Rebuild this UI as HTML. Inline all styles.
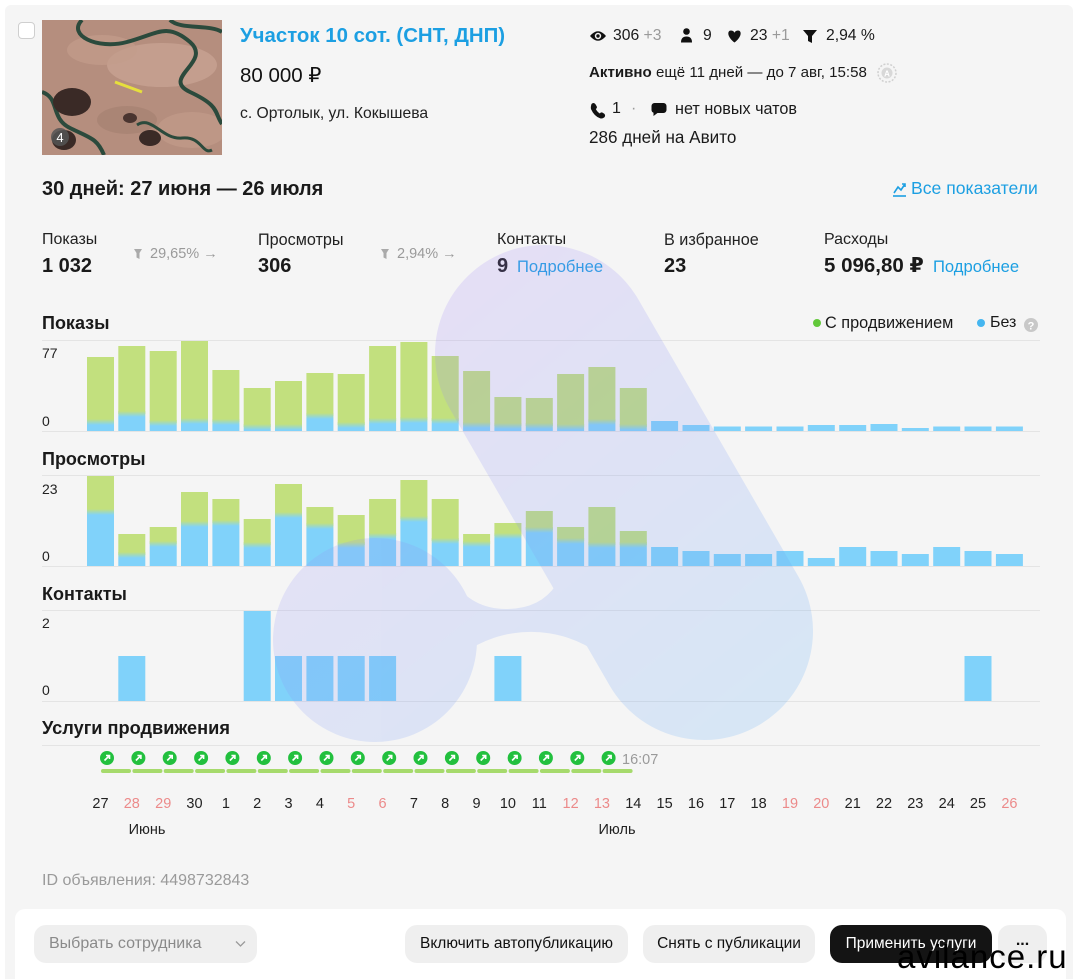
<!DOCTYPE html>
<html><head><meta charset="utf-8">
<style>
*{margin:0;padding:0;box-sizing:border-box}
html,body{width:1083px;height:979px;overflow:hidden;background:#fff}
body{position:relative;font-family:"Liberation Sans","DejaVu Sans",sans-serif;color:#1a1a1a}
.card{position:absolute;left:5px;top:5px;width:1068px;height:990px;background:#f5f5f5;border-radius:6px}
.t{position:absolute;white-space:nowrap;line-height:1}
.b{font-weight:bold}
.g{color:#9a9a9a}
.lnk{color:#1c9fe2}
.foot{position:absolute;left:15px;top:909px;width:1051px;height:90px;background:#fff;border-radius:10px}
.btn{position:absolute;top:925px;height:38px;border-radius:12px;background:#efefef;display:flex;align-items:center;justify-content:center;font-size:15px;color:#111;white-space:nowrap}
svg{position:absolute;left:0;top:0}
</style></head><body>
<div class="card"></div>

<!-- checkbox -->
<div style="position:absolute;left:18px;top:22px;width:17px;height:17px;background:#fff;border:1px solid #cfcfcf;border-radius:4px"></div>

<!-- thumbnail -->
<svg style="left:42px;top:20px" width="180" height="135" viewBox="0 0 180 135">
<rect width="180" height="135" fill="#b58e7e"/>
<ellipse cx="120" cy="45" rx="55" ry="22" fill="#caa595" opacity=".7"/>
<ellipse cx="60" cy="30" rx="35" ry="15" fill="#c39c8b" opacity=".7"/>
<ellipse cx="150" cy="110" rx="35" ry="18" fill="#c29b8a" opacity=".7"/>
<ellipse cx="85" cy="100" rx="30" ry="14" fill="#a47e70" opacity=".6"/>
<path d="M40 0 C25 15 55 30 85 22 S125 2 148 22 S118 58 148 72 S172 92 180 104" stroke="#2b4a3c" stroke-width="4" fill="none"/>
<path d="M0 72 C18 78 8 98 28 108 S55 118 62 135" stroke="#2b4a3c" stroke-width="4" fill="none"/>
<path d="M128 0 C138 10 168 4 180 12" stroke="#2b4a3c" stroke-width="4" fill="none"/>
<path d="M95 105 C110 95 120 120 140 118 S160 135 170 130" stroke="#2b4a3c" stroke-width="3" fill="none"/>
<ellipse cx="30" cy="82" rx="19" ry="14" fill="#3a2a26"/>
<ellipse cx="108" cy="118" rx="11" ry="8" fill="#3a2a26"/>
<ellipse cx="22" cy="120" rx="12" ry="10" fill="#3a2a26"/>
<ellipse cx="88" cy="98" rx="7" ry="5" fill="#4a3530"/>
<line x1="73" y1="62" x2="100" y2="72" stroke="#e6df3c" stroke-width="3"/>
<circle cx="18" cy="117" r="9" fill="#555" opacity=".85"/>
<text x="18" y="122" font-size="13" fill="#fff" text-anchor="middle" font-family="Liberation Sans">4</text>
</svg>

<!-- header texts -->
<div class="t b lnk" style="left:240px;top:26px;font-size:20.4px">Участок 10 сот. (СНТ, ДНП)</div>
<div class="t" style="left:240px;top:66px;font-size:20.5px;color:#111">80 000 ₽</div>
<div class="t" style="left:240px;top:106px;font-size:15.7px;color:#222">с. Ортолык, ул. Кокышева</div>

<div class="t" style="left:613px;top:28px;font-size:15.7px">306 <span class="g">+3</span></div>
<div class="t" style="left:703px;top:28px;font-size:15.7px">9</div>
<div class="t" style="left:750px;top:28px;font-size:15.7px">23 <span class="g">+1</span></div>
<div class="t" style="left:826px;top:28px;font-size:15.7px">2,94 %</div>

<div class="t" style="left:589px;top:65px;font-size:15.1px"><span class="b">Активно</span> ещё 11 дней — до 7 авг, 15:58</div>
<div class="t" style="left:612px;top:101px;font-size:16px">1</div>
<div class="t g" style="left:631px;top:101px;font-size:16px">·</div>
<div class="t" style="left:675px;top:101px;font-size:16.2px">нет новых чатов</div>
<div class="t" style="left:589px;top:129px;font-size:17.1px">286 дней на Авито</div>

<div class="t b" style="left:42px;top:179px;font-size:20px">30 дней: 27 июня — 26 июля</div>
<div class="t lnk" style="left:911px;top:180px;font-size:17.6px">Все показатели</div>

<!-- stats -->
<div class="t" style="left:42px;top:232px;font-size:16px;color:#222">Показы</div>
<div class="t b" style="left:42px;top:256px;font-size:20px">1 032</div>
<div class="t g" style="left:150px;top:247px;font-size:14.5px">29,65% →</div>
<div class="t" style="left:258px;top:232px;font-size:16.2px;color:#222">Просмотры</div>
<div class="t b" style="left:258px;top:256px;font-size:20px">306</div>
<div class="t g" style="left:397px;top:247px;font-size:14.5px">2,94% →</div>
<div class="t" style="left:497px;top:232px;font-size:16px;color:#222">Контакты</div>
<div class="t b" style="left:497px;top:256px;font-size:20px">9</div>
<div class="t lnk" style="left:517px;top:259px;font-size:16.6px">Подробнее</div>
<div class="t" style="left:664px;top:232px;font-size:16.2px;color:#222">В избранное</div>
<div class="t b" style="left:664px;top:256px;font-size:20px">23</div>
<div class="t" style="left:824px;top:232px;font-size:16px;color:#222">Расходы</div>
<div class="t b" style="left:824px;top:256px;font-size:20.5px">5 096,80 ₽</div>
<div class="t lnk" style="left:933px;top:259px;font-size:16.6px">Подробнее</div>

<!-- section titles -->
<div class="t b" style="left:42px;top:314px;font-size:18px">Показы</div>
<div class="t b" style="left:42px;top:450px;font-size:18px">Просмотры</div>
<div class="t b" style="left:42px;top:585px;font-size:18px">Контакты</div>
<div class="t b" style="left:42px;top:719px;font-size:18.2px">Услуги продвижения</div>

<div class="t" style="left:825px;top:315px;font-size:16.3px">С продвижением</div>
<div class="t" style="left:990px;top:315px;font-size:16px">Без</div>

<div class="t g" style="left:42px;top:873px;font-size:16px">ID объявления: 4498732843</div>

<!-- charts & icons -->
<svg width="1083" height="979" viewBox="0 0 1083 979">
<defs>
<linearGradient id="gb" x1="0" y1="0" x2="0" y2="1"><stop offset="0" stop-color="#c2e07e"/><stop offset="1" stop-color="#80d2fa"/></linearGradient>
</defs>
<!-- icons top right -->
<path d="M590 36 Q598 26.5 606 36 Q598 45.5 590 36Z" fill="#111"/>
<circle cx="598" cy="36" r="3.2" fill="#f5f5f5"/><circle cx="598" cy="36" r="1.7" fill="#111"/>
<circle cx="686.5" cy="31.5" r="3.3" fill="#111"/>
<path d="M681 42.5 Q681 36.5 686.5 36.5 Q692 36.5 692 42.5Z" fill="#111"/>
<path d="M734.5 42.5 C727 37 727 30.5 731 30.5 C733 30.5 734.5 32 734.5 33 C734.5 32 736 30.5 738 30.5 C742 30.5 742 37 734.5 42.5Z" fill="#111"/>
<polygon points="803,30 817,30 812,36 812,43 808,41 808,36" fill="#111"/>
<path d="M591.5 104 q2 -2 3.8 0 l1.5 2.5 q.5 1.5 -1 2.5 q1.5 3 4 4.5 q1 -1.5 2.5 -1 l2 1.3 q1.6 1.8 0 3.6 q-2 1.5 -4 1 q-6 -2 -9.3 -9.3 q-.5 -2 .5 -5.1z" fill="#111"/>
<path d="M654.5 103 h9 a3 3 0 0 1 3 3 v4 a3 3 0 0 1 -3 3 h-6 l-4 3 v-3.3 a3 3 0 0 1 -2 -2.7 v-4 a3 3 0 0 1 3 -3z" fill="#111"/>
<circle cx="887" cy="73" r="9" fill="none" stroke="#d0d0d0" stroke-width="1.5" stroke-dasharray="2 1.5"/>
<circle cx="887" cy="73" r="5.5" fill="#d8d8d8"/>
<text x="887" y="76.5" font-size="8" fill="#fff" text-anchor="middle" font-family="Liberation Sans" font-weight="bold">A</text>
<!-- all stats icon -->
<polyline points="894,193 898,187 901,190 905,184" fill="none" stroke="#1c9fe2" stroke-width="1.6"/>
<polyline points="902,184 905,184 905,187" fill="none" stroke="#1c9fe2" stroke-width="1.6"/>
<line x1="893" y1="196" x2="906" y2="196" stroke="#1c9fe2" stroke-width="1.6"/>
<!-- stat funnels -->
<polygon points="134,249 142,249 139.5,253 139.5,259 136.5,257.5 136.5,253" fill="#aaa"/>
<polygon points="381,249 389,249 386.5,253 386.5,259 383.5,257.5 383.5,253" fill="#aaa"/>
<!-- legend -->
<circle cx="817" cy="323" r="4" fill="#62c83a"/>
<circle cx="981" cy="323" r="4" fill="#45b6f0"/>
<circle cx="1031" cy="325" r="7" fill="#c8c8c8"/>
<text x="1031" y="329.5" font-size="11" fill="#fff" text-anchor="middle" font-family="Liberation Sans" font-weight="bold">?</text>

<!-- grid lines -->
<g stroke="#e4e4e4" stroke-width="1">
<line x1="42" y1="340.5" x2="1040" y2="340.5"/><line x1="42" y1="431.5" x2="1040" y2="431.5"/>
<line x1="42" y1="475.5" x2="1040" y2="475.5"/><line x1="42" y1="566.5" x2="1040" y2="566.5"/>
<line x1="42" y1="610.5" x2="1040" y2="610.5"/><line x1="42" y1="701.5" x2="1040" y2="701.5"/>
<line x1="42" y1="745.5" x2="1040" y2="745.5"/>
</g>

<!-- axis labels -->
<g font-family="Liberation Sans" font-size="14" fill="#222">
<text x="42" y="358">77</text><text x="42" y="426">0</text>
<text x="42" y="494">23</text><text x="42" y="561">0</text>
<text x="42" y="628">2</text><text x="42" y="695">0</text>
</g>

<!-- Показы bars -->
<g>
<g fill="#c2e07e">
<rect x="87.0" y="357" width="27" height="65"/><rect x="118.3" y="346" width="27" height="68"/>
<rect x="149.7" y="351" width="27" height="72"/><rect x="181.0" y="341" width="27" height="80"/>
<rect x="212.4" y="370" width="27" height="52"/><rect x="243.7" y="388" width="27" height="39"/>
<rect x="275.0" y="381" width="27" height="46"/><rect x="306.4" y="373" width="27" height="43"/>
<rect x="337.7" y="374" width="27" height="51"/><rect x="369.1" y="346" width="27" height="75"/>
<rect x="400.4" y="342" width="27" height="78"/><rect x="431.7" y="356" width="27" height="65"/>
<rect x="463.1" y="371" width="27" height="54"/><rect x="494.4" y="397" width="27" height="29"/>
<rect x="525.8" y="398" width="27" height="28"/><rect x="557.1" y="374" width="27" height="53"/>
<rect x="588.4" y="367" width="27" height="55"/><rect x="619.8" y="388" width="27" height="39"/>
</g>
<g fill="url(#gb)">
<rect x="87.0" y="419" width="27" height="6"/><rect x="118.3" y="411" width="27" height="6"/>
<rect x="149.7" y="420" width="27" height="6"/><rect x="181.0" y="418" width="27" height="6"/>
<rect x="212.4" y="419" width="27" height="6"/><rect x="243.7" y="424" width="27" height="6"/>
<rect x="275.0" y="424" width="27" height="6"/><rect x="306.4" y="413" width="27" height="6"/>
<rect x="337.7" y="422" width="27" height="6"/><rect x="369.1" y="418" width="27" height="6"/>
<rect x="400.4" y="417" width="27" height="6"/><rect x="431.7" y="418" width="27" height="6"/>
<rect x="463.1" y="422" width="27" height="6"/><rect x="494.4" y="423" width="27" height="6"/>
<rect x="525.8" y="423" width="27" height="6"/><rect x="557.1" y="424" width="27" height="6"/>
<rect x="588.4" y="419" width="27" height="6"/><rect x="619.8" y="424" width="27" height="6"/>
</g>
<g fill="#80d2fa">
<rect x="87.0" y="425" width="27" height="6"/><rect x="118.3" y="417" width="27" height="14"/>
<rect x="149.7" y="426" width="27" height="5"/><rect x="181.0" y="424" width="27" height="7"/>
<rect x="212.4" y="425" width="27" height="6"/><rect x="243.7" y="430" width="27" height="1"/>
<rect x="275.0" y="430" width="27" height="1"/><rect x="306.4" y="419" width="27" height="12"/>
<rect x="337.7" y="428" width="27" height="3"/><rect x="369.1" y="424" width="27" height="7"/>
<rect x="400.4" y="423" width="27" height="8"/><rect x="431.7" y="424" width="27" height="7"/>
<rect x="463.1" y="428" width="27" height="3"/><rect x="494.4" y="429" width="27" height="2"/>
<rect x="525.8" y="429" width="27" height="2"/><rect x="557.1" y="430" width="27" height="1"/>
<rect x="588.4" y="425" width="27" height="6"/><rect x="619.8" y="430" width="27" height="1"/>
<rect x="651.1" y="421" width="27" height="10"/><rect x="682.5" y="425" width="27" height="6"/>
<rect x="713.8" y="426.5" width="27" height="4.5"/><rect x="745.1" y="426.5" width="27" height="4.5"/>
<rect x="776.5" y="426.5" width="27" height="4.5"/><rect x="807.8" y="425" width="27" height="6"/>
<rect x="839.2" y="425" width="27" height="6"/><rect x="870.5" y="424" width="27" height="7"/>
<rect x="901.8" y="428" width="27" height="3"/><rect x="933.2" y="426.5" width="27" height="4.5"/>
<rect x="964.5" y="426.5" width="27" height="4.5"/><rect x="995.9" y="426.5" width="27" height="4.5"/>
</g>
</g>

<!-- Просмотры bars -->
<g>
<g fill="#c2e07e">
<rect x="87.0" y="476" width="27" height="36"/><rect x="118.3" y="534" width="27" height="21"/>
<rect x="149.7" y="527" width="27" height="17"/><rect x="181.0" y="492" width="27" height="32"/>
<rect x="212.4" y="499" width="27" height="24"/><rect x="243.7" y="519" width="27" height="26"/>
<rect x="275.0" y="484" width="27" height="31"/><rect x="306.4" y="507" width="27" height="19"/>
<rect x="337.7" y="515" width="27" height="30"/><rect x="369.1" y="499" width="27" height="37"/>
<rect x="400.4" y="480" width="27" height="39"/><rect x="431.7" y="499" width="27" height="42"/>
<rect x="463.1" y="534" width="27" height="10"/><rect x="494.4" y="523" width="27" height="13"/>
<rect x="525.8" y="511" width="27" height="19"/><rect x="557.1" y="527" width="27" height="14"/>
<rect x="588.4" y="507" width="27" height="38"/><rect x="619.8" y="531" width="27" height="14"/>
</g>
<g fill="url(#gb)">
<rect x="87.0" y="509" width="27" height="6"/><rect x="118.3" y="552" width="27" height="6"/>
<rect x="149.7" y="541" width="27" height="6"/><rect x="181.0" y="521" width="27" height="6"/>
<rect x="212.4" y="520" width="27" height="6"/><rect x="243.7" y="542" width="27" height="6"/>
<rect x="275.0" y="512" width="27" height="6"/><rect x="306.4" y="523" width="27" height="6"/>
<rect x="337.7" y="542" width="27" height="6"/><rect x="369.1" y="533" width="27" height="6"/>
<rect x="400.4" y="516" width="27" height="6"/><rect x="431.7" y="538" width="27" height="6"/>
<rect x="463.1" y="541" width="27" height="6"/><rect x="494.4" y="533" width="27" height="6"/>
<rect x="525.8" y="527" width="27" height="6"/><rect x="557.1" y="538" width="27" height="6"/>
<rect x="588.4" y="542" width="27" height="6"/><rect x="619.8" y="542" width="27" height="6"/>
</g>
<g fill="#80d2fa">
<rect x="87.0" y="515" width="27" height="51"/><rect x="118.3" y="558" width="27" height="8"/>
<rect x="149.7" y="547" width="27" height="19"/><rect x="181.0" y="527" width="27" height="39"/>
<rect x="212.4" y="526" width="27" height="40"/><rect x="243.7" y="548" width="27" height="18"/>
<rect x="275.0" y="518" width="27" height="48"/><rect x="306.4" y="529" width="27" height="37"/>
<rect x="337.7" y="548" width="27" height="18"/><rect x="369.1" y="539" width="27" height="27"/>
<rect x="400.4" y="522" width="27" height="44"/><rect x="431.7" y="544" width="27" height="22"/>
<rect x="463.1" y="547" width="27" height="19"/><rect x="494.4" y="539" width="27" height="27"/>
<rect x="525.8" y="533" width="27" height="33"/><rect x="557.1" y="544" width="27" height="22"/>
<rect x="588.4" y="548" width="27" height="18"/><rect x="619.8" y="548" width="27" height="18"/>
<rect x="651.1" y="547" width="27" height="19"/><rect x="682.5" y="551" width="27" height="15"/>
<rect x="713.8" y="554" width="27" height="12"/><rect x="745.1" y="554" width="27" height="12"/>
<rect x="776.5" y="551" width="27" height="15"/><rect x="807.8" y="558" width="27" height="8"/>
<rect x="839.2" y="547" width="27" height="19"/><rect x="870.5" y="551" width="27" height="15"/>
<rect x="901.8" y="554" width="27" height="12"/><rect x="933.2" y="547" width="27" height="19"/>
<rect x="964.5" y="551" width="27" height="15"/><rect x="995.9" y="554" width="27" height="12"/>
</g>
</g>

<!-- Контакты bars -->
<g fill="#80d2fa">
<rect x="118.3" y="656" width="27" height="45"/>
<rect x="243.7" y="611" width="27" height="90"/>
<rect x="275.0" y="656" width="27" height="45"/><rect x="306.4" y="656" width="27" height="45"/>
<rect x="337.7" y="656" width="27" height="45"/><rect x="369.1" y="656" width="27" height="45"/>
<rect x="494.4" y="656" width="27" height="45"/>
<rect x="964.5" y="656" width="27" height="45"/>
</g>

<!-- promo -->
<g fill="#a6da6c">
<rect x="101" y="769" width="30" height="4" rx="2"/><rect x="132.4" y="769" width="30" height="4" rx="2"/>
<rect x="163.7" y="769" width="30" height="4" rx="2"/><rect x="195.1" y="769" width="30" height="4" rx="2"/>
<rect x="226.4" y="769" width="30" height="4" rx="2"/><rect x="257.8" y="769" width="30" height="4" rx="2"/>
<rect x="289.1" y="769" width="30" height="4" rx="2"/><rect x="320.5" y="769" width="30" height="4" rx="2"/>
<rect x="351.8" y="769" width="30" height="4" rx="2"/><rect x="383.2" y="769" width="30" height="4" rx="2"/>
<rect x="414.5" y="769" width="30" height="4" rx="2"/><rect x="445.9" y="769" width="30" height="4" rx="2"/>
<rect x="477.2" y="769" width="30" height="4" rx="2"/><rect x="508.6" y="769" width="30" height="4" rx="2"/>
<rect x="539.9" y="769" width="30" height="4" rx="2"/><rect x="571.3" y="769" width="30" height="4" rx="2"/>
<rect x="602.6" y="769" width="30" height="4" rx="2"/>
</g>
<g fill="#22c03e">
<circle cx="107" cy="758" r="7"/><circle cx="138.4" cy="758" r="7"/><circle cx="169.7" cy="758" r="7"/>
<circle cx="201.1" cy="758" r="7"/><circle cx="232.4" cy="758" r="7"/><circle cx="263.8" cy="758" r="7"/>
<circle cx="295.1" cy="758" r="7"/><circle cx="326.5" cy="758" r="7"/><circle cx="357.8" cy="758" r="7"/>
<circle cx="389.2" cy="758" r="7"/><circle cx="420.5" cy="758" r="7"/><circle cx="451.9" cy="758" r="7"/>
<circle cx="483.2" cy="758" r="7"/><circle cx="514.6" cy="758" r="7"/><circle cx="545.9" cy="758" r="7"/>
<circle cx="577.3" cy="758" r="7"/><circle cx="608.6" cy="758" r="7"/>
</g>
<g stroke="#fff" stroke-width="1.6" fill="none">
<path d="M104.5 760.5l5-5m-3.5 0h3.5v3.5"/><path d="M135.9 760.5l5-5m-3.5 0h3.5v3.5"/>
<path d="M167.2 760.5l5-5m-3.5 0h3.5v3.5"/><path d="M198.6 760.5l5-5m-3.5 0h3.5v3.5"/>
<path d="M229.9 760.5l5-5m-3.5 0h3.5v3.5"/><path d="M261.3 760.5l5-5m-3.5 0h3.5v3.5"/>
<path d="M292.6 760.5l5-5m-3.5 0h3.5v3.5"/><path d="M324 760.5l5-5m-3.5 0h3.5v3.5"/>
<path d="M355.3 760.5l5-5m-3.5 0h3.5v3.5"/><path d="M386.7 760.5l5-5m-3.5 0h3.5v3.5"/>
<path d="M418 760.5l5-5m-3.5 0h3.5v3.5"/><path d="M449.4 760.5l5-5m-3.5 0h3.5v3.5"/>
<path d="M480.7 760.5l5-5m-3.5 0h3.5v3.5"/><path d="M512.1 760.5l5-5m-3.5 0h3.5v3.5"/>
<path d="M543.4 760.5l5-5m-3.5 0h3.5v3.5"/><path d="M574.8 760.5l5-5m-3.5 0h3.5v3.5"/>
<path d="M606.1 760.5l5-5m-3.5 0h3.5v3.5"/>
</g>
<text x="622" y="764" font-family="Liberation Sans" font-size="14.5" fill="#9a9a9a">16:07</text>

<!-- dates -->
<g font-family="Liberation Sans" font-size="14.5" fill="#222" text-anchor="middle">
<text x="100.5" y="808">27</text><text x="131.8" y="808" fill="#ec8a8a">28</text><text x="163.2" y="808" fill="#ec8a8a">29</text>
<text x="194.5" y="808">30</text><text x="225.9" y="808">1</text><text x="257.2" y="808">2</text>
<text x="288.5" y="808">3</text><text x="319.9" y="808">4</text><text x="351.2" y="808" fill="#ec8a8a">5</text>
<text x="382.6" y="808" fill="#ec8a8a">6</text><text x="413.9" y="808">7</text><text x="445.2" y="808">8</text>
<text x="476.6" y="808">9</text><text x="507.9" y="808">10</text><text x="539.3" y="808">11</text>
<text x="570.6" y="808" fill="#ec8a8a">12</text><text x="601.9" y="808" fill="#ec8a8a">13</text><text x="633.3" y="808">14</text>
<text x="664.6" y="808">15</text><text x="696.0" y="808">16</text><text x="727.3" y="808">17</text>
<text x="758.6" y="808">18</text><text x="790.0" y="808" fill="#ec8a8a">19</text><text x="821.3" y="808" fill="#ec8a8a">20</text>
<text x="852.7" y="808">21</text><text x="884.0" y="808">22</text><text x="915.3" y="808">23</text>
<text x="946.7" y="808">24</text><text x="978.0" y="808">25</text><text x="1009.4" y="808" fill="#ec8a8a">26</text>
<text x="147" y="834">Июнь</text><text x="617" y="834">Июль</text>
</g>
</svg>

<!-- footer -->
<div class="foot"></div>
<div class="btn" style="left:34px;width:223px;justify-content:flex-start;padding-left:15px;color:#8a8a8a;font-size:16px">Выбрать сотрудника</div>
<svg style="left:230px;top:935px" width="20" height="20"><path d="M6 6.5l4.5 4.5l4.5-4.5" stroke="#9a9a9a" stroke-width="1.3" fill="none"/></svg>
<div class="btn" style="left:405px;width:223px;font-size:15.5px">Включить автопубликацию</div>
<div class="btn" style="left:643px;width:172px;font-size:15.5px">Снять с публикации</div>
<div class="btn" style="left:830px;width:162px;background:#141414;color:#fff;font-size:15.5px">Применить услуги</div>
<div class="btn" style="left:998px;width:49px;font-weight:bold;font-size:16px;padding-bottom:6px">...</div>
<div class="t" style="left:897px;top:940px;font-size:33px;letter-spacing:1px;color:#000">avilance.ru</div>

<!-- watermark overlay -->
<svg width="1083" height="979" viewBox="0 0 1083 979" style="pointer-events:none">
<defs>
<linearGradient id="wm" gradientUnits="userSpaceOnUse" x1="430" y1="260" x2="800" y2="720">
<stop offset="0" stop-color="#aa88f5"/><stop offset="1" stop-color="#5fb0f5"/>
</linearGradient>
</defs>
<g opacity="0.2" fill="url(#wm)">
<line x1="544" y1="354" x2="704" y2="631" stroke="url(#wm)" stroke-width="218" stroke-linecap="round"/>
<circle cx="375" cy="640" r="102"/>
<path d="M400 700 L430 570 L452 580 Q472 609 506 609 Q540 609 556 585 L600 560 L720 640 L643 715 A117 117 0 0 0 419 715 Z"/>
</g>
</svg>
</body></html>
